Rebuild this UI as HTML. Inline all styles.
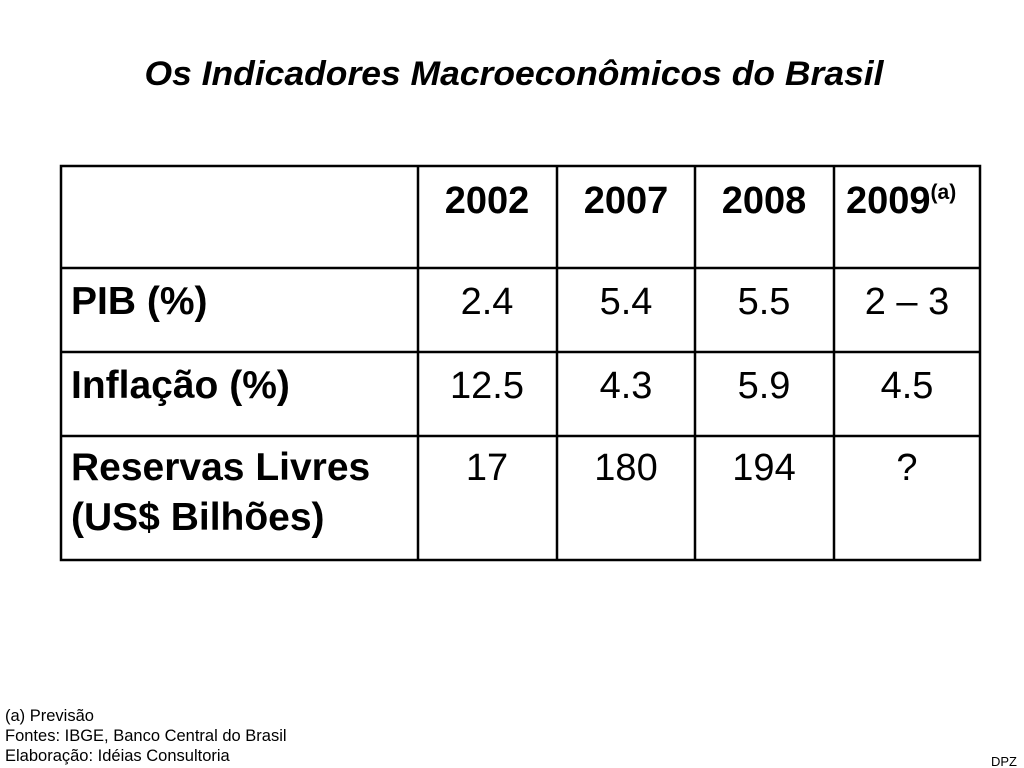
<!DOCTYPE html>
<html><head><meta charset="utf-8"><style>
html,body{margin:0;padding:0;background:#fff;width:1024px;height:768px;overflow:hidden}
svg{display:block;font-family:"Liberation Sans",Arial,sans-serif}
</style></head><body>
<svg width="1024" height="768" viewBox="0 0 1024 768">
<text x="514" y="85" text-anchor="middle" font-size="34" font-weight="bold" font-style="italic" textLength="739" lengthAdjust="spacingAndGlyphs">Os Indicadores Macroeconômicos do Brasil</text>
<g stroke="#000" stroke-width="2.5" fill="none">
<rect x="61" y="166" width="919" height="394"/>
<line x1="418" y1="166" x2="418" y2="560"/>
<line x1="557" y1="166" x2="557" y2="560"/>
<line x1="695" y1="166" x2="695" y2="560"/>
<line x1="834" y1="166" x2="834" y2="560"/>
<line x1="61" y1="268" x2="980" y2="268"/>
<line x1="61" y1="352" x2="980" y2="352"/>
<line x1="61" y1="436" x2="980" y2="436"/>
</g>
<g font-size="38" font-weight="bold" text-anchor="middle">
<text x="487" y="213">2002</text>
<text x="626" y="213">2007</text>
<text x="764" y="213">2008</text>
</g>
<text x="846" y="213" font-size="38" font-weight="bold">2009<tspan font-size="21" dy="-14">(a)</tspan></text>
<g font-size="39" font-weight="bold">
<text x="71" y="314">PIB (%)</text>
<text x="71" y="398">Inflação (%)</text>
<text x="71" y="480">Reservas Livres</text>
<text x="71" y="530">(US$ Bilhões)</text>
</g>
<g font-size="38" text-anchor="middle">
<text x="487" y="314">2.4</text><text x="626" y="314">5.4</text><text x="764" y="314">5.5</text><text x="907" y="314">2 – 3</text>
<text x="487" y="398">12.5</text><text x="626" y="398">4.3</text><text x="764" y="398">5.9</text><text x="907" y="398">4.5</text>
<text x="487" y="480">17</text><text x="626" y="480">180</text><text x="764" y="480">194</text><text x="907" y="480">?</text>
</g>
<g font-size="16.5">
<text x="5" y="721">(a) Previsão</text>
<text x="5" y="741">Fontes: IBGE, Banco Central do Brasil</text>
<text x="5" y="761">Elaboração: Idéias Consultoria</text>
</g>
<text x="1017" y="766" font-size="13" text-anchor="end">DPZ</text>
</svg>
</body></html>
